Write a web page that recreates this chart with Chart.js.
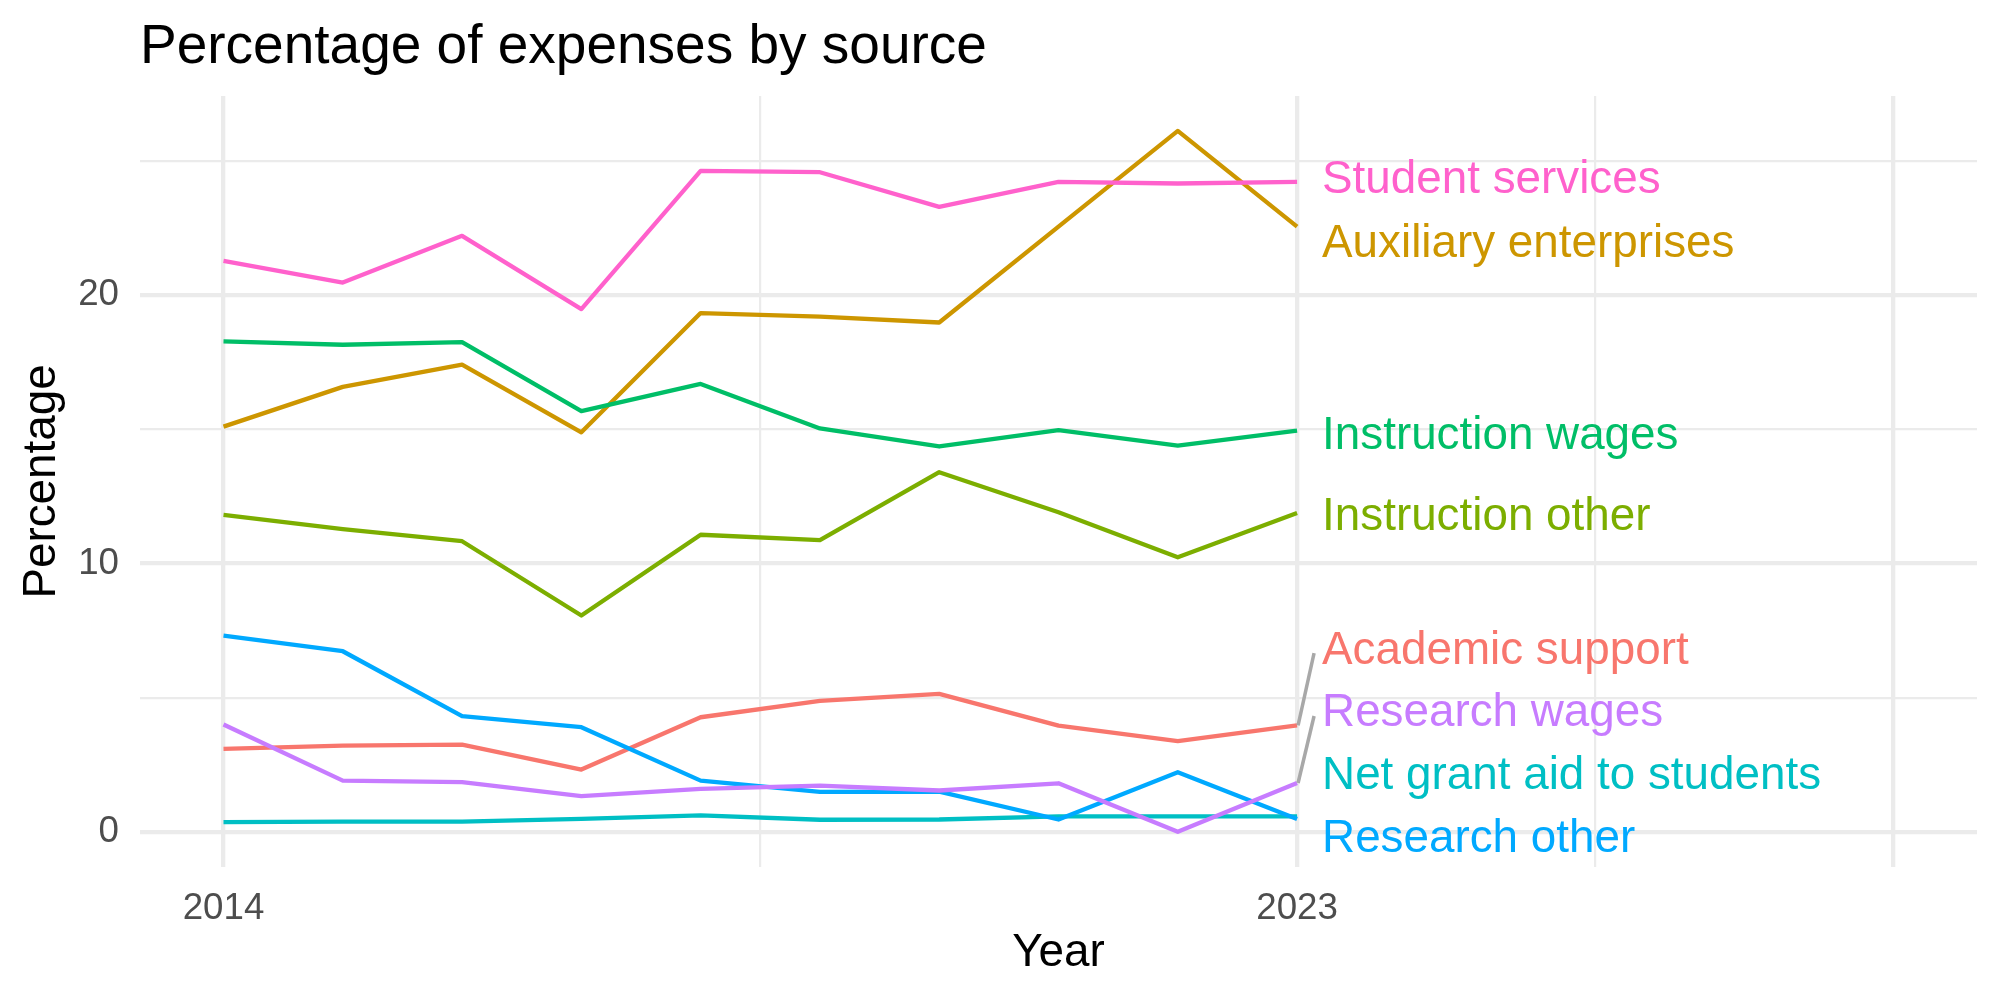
<!DOCTYPE html>
<html>
<head>
<meta charset="utf-8">
<script src="https://cdn.jsdelivr.net/npm/chart.js@4.4.1/dist/chart.umd.min.js"></script>
<style>
  html, body { margin: 0; padding: 0; background: #fff; }
  #wrap { width: 2000px; height: 1000px; }
</style>
</head>
<body>
<div id="wrap"><canvas id="chart"></canvas></div>
<script>
// data
const years = [2014, 2015, 2016, 2017, 2018, 2019, 2020, 2021, 2022, 2023];
const sources = ['Academic support', 'Auxiliary enterprises', 'Instruction other', 'Instruction wages',
                 'Net grant aid to students', 'Research other', 'Research wages', 'Student services'];

const academicSupport      = [3.09, 3.21, 3.25, 2.32, 4.27, 4.88, 5.14, 3.96, 3.38, 3.97];
const auxiliaryEnterprises = [15.10, 16.58, 17.41, 14.89, 19.33, 19.20, 18.98, 22.55, 26.12, 22.55];
const instructionOther     = [11.81, 11.28, 10.83, 8.06, 11.07, 10.87, 13.40, 11.91, 10.23, 11.88];
const instructionWages     = [18.28, 18.15, 18.25, 15.68, 16.69, 15.03, 14.36, 14.97, 14.39, 14.95];
const netGrantAid          = [0.36, 0.38, 0.38, 0.48, 0.61, 0.45, 0.46, 0.58, 0.58, 0.58];
const researchOther        = [7.31, 6.73, 4.31, 3.90, 1.91, 1.49, 1.50, 0.46, 2.22, 0.48];
const researchWages        = [4.00, 1.91, 1.85, 1.33, 1.60, 1.72, 1.54, 1.81, 0.00, 1.82];
const studentServices      = [21.28, 20.47, 22.21, 19.48, 24.63, 24.58, 23.29, 24.22, 24.16, 24.22];

// repelled label heights (in percentage units), same order as sources
const labelY = [6.88, 22.02, 11.85, 14.89, 2.22, -0.15, 4.54, 24.42];

// axis breaks
const xBreaks = [2014, 2018.5, 2023, 2025.5, 2028];
const xLabels = [2014, 2023];
const yBreaks = [0, 5, 10, 15, 20, 25];
const yLabels = [0, 10, 20];

const series = [academicSupport, auxiliaryEnterprises, instructionOther, instructionWages,
                netGrantAid, researchOther, researchWages, studentServices];
const colors = ['#F8766D', '#CD9600', '#7CAE00', '#00BE67', '#00BFC4', '#00A9FF', '#C77CFF', '#FF61CC'];

const FONT = "'Liberation Sans', Arial, Helvetica, sans-serif";

// text layer: title, axis titles, end labels with repel segments
const textLayer = {
    id: 'textLayer',
    afterDatasetsDraw(chart) {
        const { ctx, chartArea, scales } = chart;
        const xs = scales.x, ys = scales.y;
        ctx.save();

        // segments only for labels pushed far from their line end
        ctx.strokeStyle = '#A8A8A8';
        ctx.lineWidth = 3.5;
        ctx.lineCap = 'butt';
        const lastYear = years[years.length - 1];
        const x0 = xs.getPixelForValue(lastYear);
        sources.forEach((s, i) => {
            const last = series[i][series[i].length - 1];
            if (Math.abs(labelY[i] - last) > 2) {
                ctx.beginPath();
                ctx.moveTo(x0 + 1, ys.getPixelForValue(last));
                ctx.lineTo(x0 + 17, ys.getPixelForValue(labelY[i]) + 6);
                ctx.stroke();
            }
        });

        // end labels
        ctx.font = '45.8px ' + FONT;
        ctx.textAlign = 'left';
        ctx.textBaseline = 'alphabetic';
        sources.forEach((s, i) => {
            ctx.fillStyle = colors[i];
            ctx.fillText(s, x0 + 25, ys.getPixelForValue(labelY[i]) + 16.4);
        });

        // title
        ctx.fillStyle = '#000';
        ctx.font = '55px ' + FONT;
        ctx.fillText('Percentage of expenses by source', chartArea.left, 63);

        // axis titles
        ctx.font = '45.8px ' + FONT;
        ctx.textAlign = 'center';
        ctx.fillText('Year', (chartArea.left + chartArea.right) / 2, 966);
        ctx.translate(55, (chartArea.top + chartArea.bottom) / 2);
        ctx.rotate(-Math.PI / 2);
        ctx.fillText('Percentage', 0, 0);
        ctx.restore();
    }
};

new Chart(document.getElementById('chart'), {
    type: 'line',
    data: {
        datasets: sources.map((s, i) => ({
            label: s,
            data: years.map((yr, j) => ({ x: yr, y: series[i][j] })),
            borderColor: colors[i],
            backgroundColor: colors[i],
            borderWidth: 4.3,
            borderJoinStyle: 'round',
            pointRadius: 0,
            tension: 0,
            fill: false,
            order: sources.length - i
        }))
    },
    options: {
        animation: false,
        responsive: true,
        maintainAspectRatio: false,
        layout: { padding: { top: 96, right: 23, left: 0, bottom: 0 } },
        plugins: {
            legend: { display: false },
            tooltip: { enabled: false },
            title: { display: false }
        },
        scales: {
            x: {
                type: 'linear',
                min: 2013.3,
                max: 2028.7,
                afterBuildTicks: scale => { scale.ticks = xBreaks.map(v => ({ value: v })); },
                afterFit: scale => { scale.height = 133; },
                border: { display: false },
                grid: {
                    color: '#EBEBEB',
                    drawTicks: false,
                    lineWidth: c => (c.tick && Number.isInteger(c.tick.value)) ? 4.3 : 2.2
                },
                ticks: {
                    autoSkip: false,
                    maxRotation: 0,
                    padding: 20,
                    color: '#4D4D4D',
                    font: { family: FONT, size: 36.7 },
                    callback: v => xLabels.includes(v) ? String(v) : ''
                }
            },
            y: {
                min: -1.31,
                max: 27.42,
                afterBuildTicks: scale => { scale.ticks = yBreaks.map(v => ({ value: v })); },
                afterFit: scale => { scale.width = 140; },
                border: { display: false },
                grid: {
                    color: '#EBEBEB',
                    drawTicks: false,
                    lineWidth: c => (c.tick && c.tick.value % 10 === 0) ? 4.3 : 2.2
                },
                ticks: {
                    padding: 21,
                    color: '#4D4D4D',
                    font: { family: FONT, size: 36.7 },
                    callback: v => yLabels.includes(v) ? String(v) : ''
                }
            }
        }
    },
    plugins: [textLayer]
});
</script>
</body>
</html>
